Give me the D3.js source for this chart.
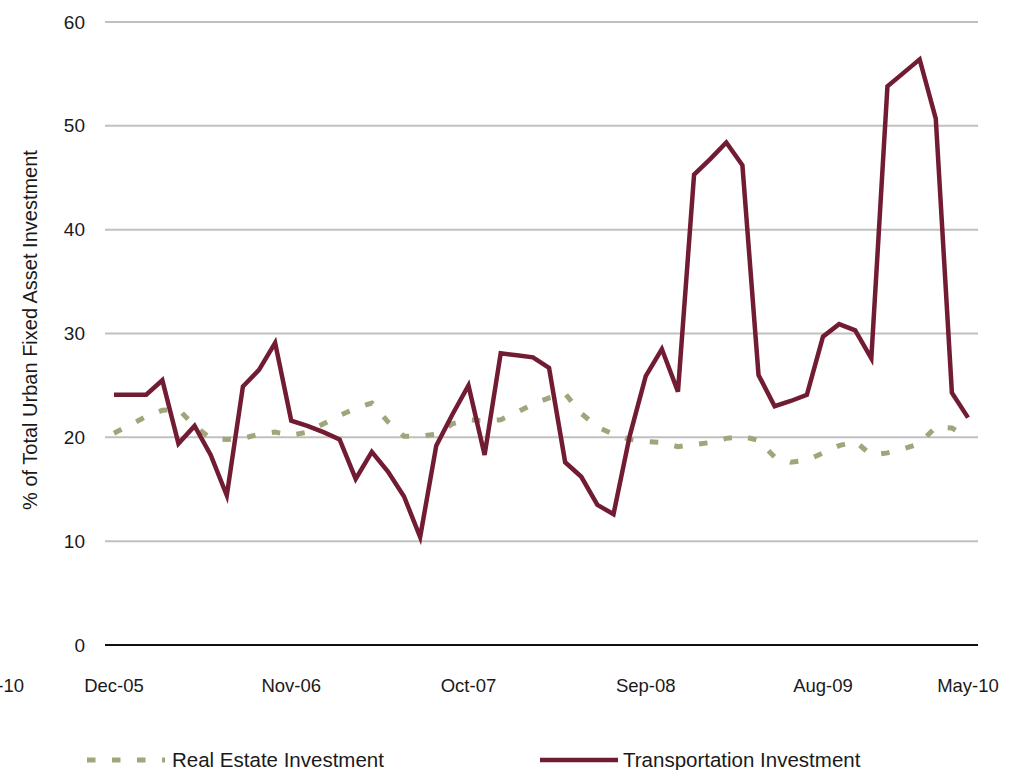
<!DOCTYPE html>
<html>
<head>
<meta charset="utf-8">
<script src="https://cdn.jsdelivr.net/npm/d3@7"></script>
<style>
  html, body { margin: 0; padding: 0; background: #fff; }
  svg { display: block; }
  text { font-family: "Liberation Sans", Arial, sans-serif; fill: #1a1a1a; }
</style>
</head>
<body>
<div id="chart"></div>
<script>
// Monthly share of total urban fixed asset investment (%), Dec-05 .. May-10
const months = [
  "Dec-05","Jan-06","Feb-06","Mar-06","Apr-06","May-06","Jun-06","Jul-06","Aug-06","Sep-06","Oct-06","Nov-06",
  "Dec-06","Jan-07","Feb-07","Mar-07","Apr-07","May-07","Jun-07","Jul-07","Aug-07","Sep-07","Oct-07",
  "Nov-07","Dec-07","Jan-08","Feb-08","Mar-08","Apr-08","May-08","Jun-08","Jul-08","Aug-08","Sep-08",
  "Oct-08","Nov-08","Dec-08","Jan-09","Feb-09","Mar-09","Apr-09","May-09","Jun-09","Jul-09","Aug-09",
  "Sep-09","Oct-09","Nov-09","Dec-09","Jan-10","Feb-10","Mar-10","Apr-10","May-10"
];

const realEstate = [
  20.4, 21.2, 22.0, 22.6, 22.7, 21.1, 19.9, 19.8, 19.9, 20.3, 20.5, 20.2,
  20.5, 21.3, 22.1, 22.8, 23.3, 21.5, 20.1, 20.1, 20.3, 21.3, 21.7,
  21.6, 21.7, 22.4, 23.2, 23.8, 24.2, 22.3, 21.0, 20.3, 19.8, 19.6,
  19.5, 19.1, 19.3, 19.5, 19.9, 20.1, 19.7, 18.1, 17.6, 17.8, 18.5,
  19.2, 19.6, 18.3, 18.5, 18.9, 19.4, 21.0, 20.9, 20.0
];

const transportation = [
  24.1, 24.1, 24.1, 25.5, 19.4, 21.1, 18.3, 14.4, 24.9, 26.5, 29.1, 21.6,
  21.1, 20.5, 19.8, 16.0, 18.6, 16.7, 14.3, 10.4, 19.2, 22.2, 25.0,
  18.3, 28.1, 27.9, 27.7, 26.7, 17.6, 16.2, 13.5, 12.6, 20.1, 25.9,
  28.5, 24.4, 45.3, 46.8, 48.4, 46.2, 26.0, 23.0, 23.5, 24.1, 29.7,
  30.9, 30.3, 27.6, 53.8, 55.1, 56.4, 50.7, 24.3, 21.9
];

// Category labels shown under the axis and the month index each sits at
const tickLabels = ["May-10", "Dec-05", "Nov-06", "Oct-07", "Sep-08", "Aug-09", "May-10"];
const tickIndex  = [-7.5, 0, 11, 22, 33, 44, 53];

const yTicks = [0, 10, 20, 30, 40, 50, 60];
const seriesNames = ["Real Estate Investment", "Transportation Investment"];

const W = 1032, H = 770;
const svg = d3.select("#chart").append("svg")
  .attr("width", W).attr("height", H);

const x = d3.scaleLinear().domain([0, months.length - 1]).range([114, 968]);
const y = d3.scaleLinear().domain([0, 60]).range([645, 22]);

const gridLeft = 105, gridRight = 978;

// horizontal gridlines
svg.append("g").selectAll("line")
  .data(yTicks.filter(d => d !== 0))
  .join("line")
  .attr("x1", gridLeft).attr("x2", gridRight)
  .attr("y1", d => y(d)).attr("y2", d => y(d))
  .attr("stroke", "#c0c0c0").attr("stroke-width", 2);

// y axis labels
const yAxis = d3.axisLeft(y).tickValues(yTicks).tickSize(0).tickPadding(0);
const yg = svg.append("g").attr("transform", `translate(${85},0)`).call(yAxis);
yg.select(".domain").remove();
yg.selectAll("text")
  .attr("font-size", 19)
  .attr("font-family", "Liberation Sans, Arial, sans-serif")
  .attr("fill", "#1a1a1a");

// zero line
svg.append("line")
  .attr("x1", gridLeft).attr("x2", gridRight)
  .attr("y1", y(0)).attr("y2", y(0))
  .attr("stroke", "#111").attr("stroke-width", 2);

// category labels
svg.append("g").selectAll("text")
  .data(tickLabels)
  .join("text")
  .attr("x", (d, i) => x(tickIndex[i]))
  .attr("y", 692)
  .attr("text-anchor", "middle")
  .attr("font-size", 18.5)
  .text(d => d);

// axis title
svg.append("text")
  .attr("transform", `translate(37,${330}) rotate(-90)`)
  .attr("text-anchor", "middle")
  .attr("font-size", 20)
  .text("% of Total Urban Fixed Asset Investment");

const line = d3.line()
  .x((d, i) => x(i))
  .y(d => y(d));

// real estate share (dashed)
svg.append("path")
  .datum(realEstate)
  .attr("d", line)
  .attr("fill", "none")
  .attr("stroke", "#a0a67a")
  .attr("stroke-width", 5)
  .attr("stroke-dasharray", "8.5,16.5");

// transportation share (solid)
svg.append("path")
  .datum(transportation)
  .attr("d", line)
  .attr("fill", "none")
  .attr("stroke", "#711c32")
  .attr("stroke-width", 4.5)
  .attr("stroke-linejoin", "miter");

// legend
const legendY = 760;
svg.append("line")
  .attr("x1", 87).attr("x2", 165)
  .attr("y1", legendY).attr("y2", legendY)
  .attr("stroke", "#a0a67a").attr("stroke-width", 5)
  .attr("stroke-dasharray", "8.5,16.5");
svg.append("text")
  .attr("x", 172).attr("y", legendY + 7)
  .attr("font-size", 20.5)
  .text(seriesNames[0]);

svg.append("line")
  .attr("x1", 540).attr("x2", 618)
  .attr("y1", legendY).attr("y2", legendY)
  .attr("stroke", "#711c32").attr("stroke-width", 4.5);
svg.append("text")
  .attr("x", 623).attr("y", legendY + 7)
  .attr("font-size", 20.5)
  .text(seriesNames[1]);
</script>
</body>
</html>
